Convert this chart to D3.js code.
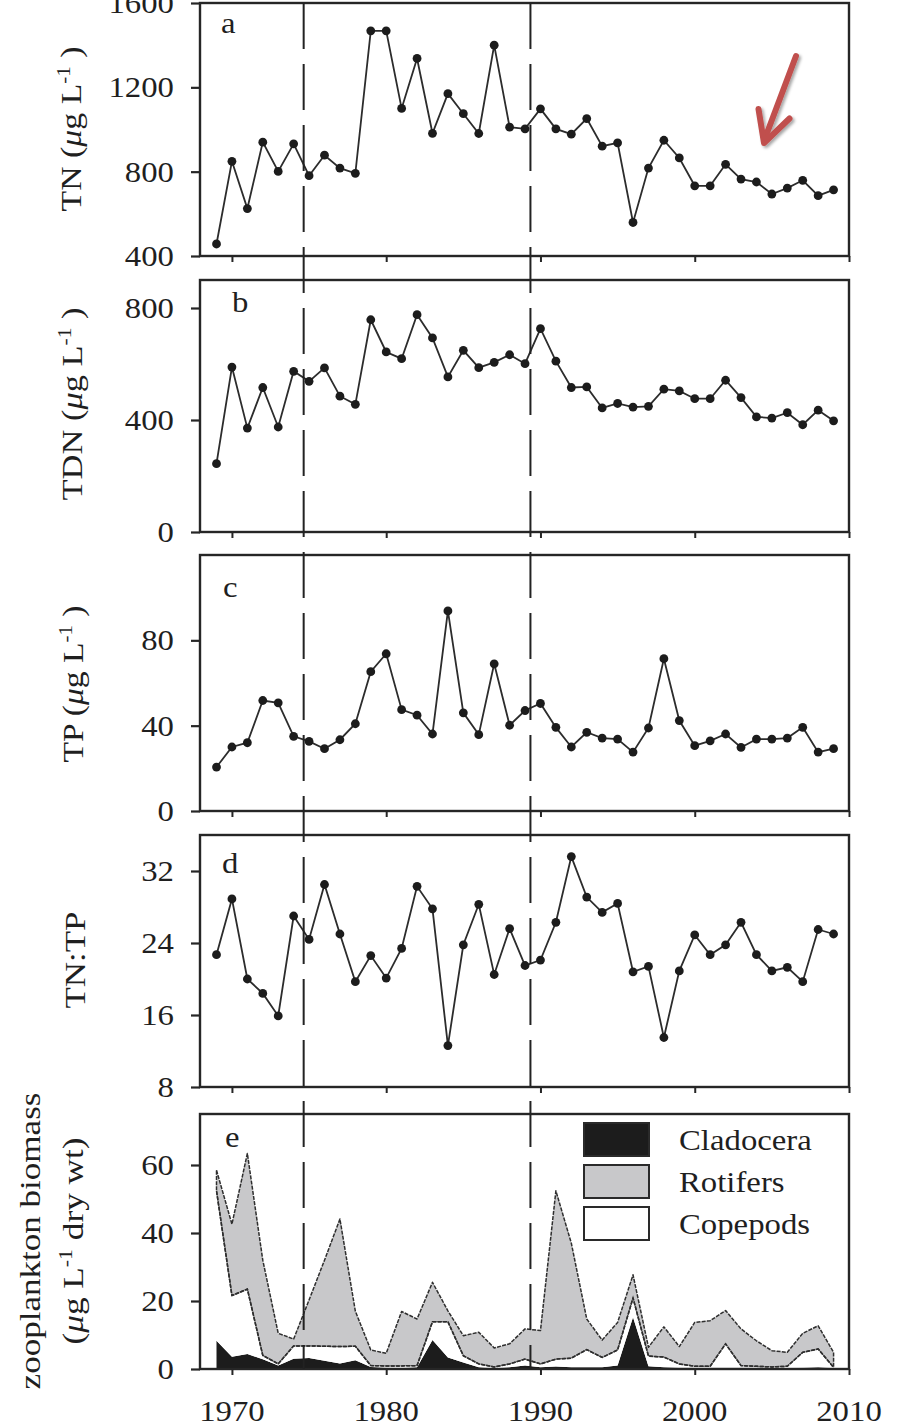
<!DOCTYPE html>
<html>
<head>
<meta charset="utf-8">
<script src="https://cdn.jsdelivr.net/npm/d3@7"></script>
<style>
  html, body { margin: 0; padding: 0; background: #fff; }
  svg { display: block; font-family: "Liberation Serif", "Times New Roman", serif; }
</style>
</head>
<body>
<svg id="chart" width="898" height="1427"></svg>
<script>
// ---- data (annual means, 1969-2009) ----
const years = [1969,1970,1971,1972,1973,1974,1975,1976,1977,1978,
               1979,1980,1981,1982,1983,1984,1985,1986,1987,1988,
               1989,1990,1991,1992,1993,1994,1995,1996,1997,1998,
               1999,2000,2001,2002,2003,2004,2005,2006,2007,2008,2009];

const tn = [457,849,625,940,801,932,781,878,817,792,
            1468,1468,1100,1337,982,1170,1075,981,1400,1011,
            1003,1098,1003,978,1052,921,937,559,817,949,
            865,733,733,835,765,751,694,722,759,686,714];

const tdn = [244,589,371,516,375,574,538,586,485,456,
             758,643,619,776,693,554,649,587,606,633,
             601,726,610,516,518,443,459,446,449,510,
             504,476,476,542,480,411,407,426,383,435,397];

const tp = [20.6,30.0,32.0,51.8,50.7,35.0,32.6,29.2,33.4,40.9,
            65.3,73.7,47.5,44.9,36.1,93.8,46.0,35.8,69.0,40.2,
            47.1,50.4,39.2,30.0,36.9,34.2,33.7,27.6,38.9,71.4,
            42.4,30.6,32.9,36.1,29.8,33.7,33.7,34.2,39.2,27.6,29.2];

const tnTp = [22.7,28.9,20.0,18.4,15.9,27.0,24.4,30.5,25.0,19.7,
              22.6,20.1,23.4,30.3,27.8,12.6,23.8,28.3,20.5,25.6,
              21.5,22.1,26.3,33.6,29.1,27.4,28.4,20.8,21.4,13.5,
              20.9,24.9,22.7,23.8,26.3,22.7,20.9,21.3,19.7,25.5,25.0];

// zooplankton biomass by group (µg/L dry wt)
const cladocera = [8.3,3.6,4.4,2.9,1.0,3.0,3.2,2.4,1.6,2.6,
                   0.6,0.4,0.3,0.5,8.5,3.4,1.9,0.5,0.2,0.5,
                   1.0,0.5,0.7,0.5,0.5,0.5,1.0,15.2,0.8,0.5,
                   0.4,0.4,0.4,0.4,0.4,0.4,0.3,0.3,0.4,0.5,0.3];
const copepods = [44.1,18.0,19.1,1.1,0.5,3.8,3.6,4.3,5.0,4.1,
                  0.4,0.5,0.6,0.5,5.4,10.5,2.0,1.0,0.4,1.0,
                  1.9,1.0,2.2,2.7,5.2,2.9,4.6,5.7,3.0,3.0,
                  1.1,0.4,0.4,7.0,0.6,0.4,0.3,0.5,4.5,5.4,0.2];
const rotifers = [6.1,21.0,39.9,28.0,9.0,2.0,13.5,25.3,37.5,10.3,
                  4.6,3.7,16.0,13.7,11.6,3.2,5.9,9.3,5.6,5.9,
                  8.9,9.8,49.5,33.8,9.0,5.1,8.1,6.8,2.6,8.9,
                  5.1,12.9,13.4,9.8,10.8,7.5,4.8,4.1,5.6,6.8,4.4];

const legendGroups = ["Cladocera", "Rotifers", "Copepods"];
const stackOrder = ["Cladocera", "Copepods", "Rotifers"];   // bottom to top
const regimeBreaks = [1974.65, 1989.35];
const xTickYears = [1970, 1980, 1990, 2000, 2010];
const tnTicks = [400, 800, 1200, 1600];
const tdnTicks = [0, 400, 800];
const tpTicks = [0, 40, 80];
const ratioTicks = [8, 16, 24, 32];
const zooTicks = [0, 20, 40, 60];

// ---- layout ----
const LEFT = 200, RIGHT = 849;
const TEXT_K = 1.13;          // horizontal stretch of the serif face
const INK = "#1f1f1f";
const FONT = 29;
const groupFill = { Cladocera: "#1c1c1c", Rotifers: "#c8c8ca", Copepods: "#ffffff" };

const svg = d3.select("#chart");
const x = d3.scaleLinear().domain([1967.93, 2010]).range([LEFT, RIGHT]);

const mu = "\u03bc";
const panels = [
  { letter: "a", values: tn, top: 3, bottom: 256, domain: [400, 1600], ticks: tnTicks,
    lx: 221, ly: 33,
    label: [["TN (", ""], [mu, "it"], ["g L", ""], ["-1", "sup"], [" )", ""]], labX: 81, labY: 129, labLen: 165 },
  { letter: "b", values: tdn, top: 280, bottom: 532, domain: [0, 900], ticks: tdnTicks,
    lx: 232, ly: 312,
    label: [["TDN (", ""], [mu, "it"], ["g L", ""], ["-1", "sup"], [" )", ""]], labX: 82, labY: 404, labLen: 193 },
  { letter: "c", values: tp, top: 555, bottom: 811, domain: [0, 120], ticks: tpTicks,
    lx: 223, ly: 597,
    label: [["TP (", ""], [mu, "it"], ["g L", ""], ["-1", "sup"], [" )", ""]], labX: 83, labY: 684, labLen: 157 },
  { letter: "d", values: tnTp, top: 835, bottom: 1087, domain: [8, 36], ticks: ratioTicks,
    lx: 222, ly: 873,
    label: [["TN:TP", ""]], labX: 85, labY: 960, labLen: 97 },
  { letter: "e", values: null, top: 1114, bottom: 1369, domain: [0, 75], ticks: zooTicks,
    lx: 225, ly: 1147 }
];

function stretched(g, txt, px, py, anchor, size) {
  return g.append("text")
    .attr("transform", `translate(${px},${py}) scale(${TEXT_K},1)`)
    .attr("text-anchor", anchor)
    .attr("font-size", size)
    .attr("fill", INK)
    .text(txt);
}

function rotatedLabel(parts, cx, cy, targetLen) {
  const t = svg.append("text")
    .attr("text-anchor", "middle")
    .attr("font-size", FONT)
    .attr("fill", INK);
  let raised = false;
  parts.forEach(([s, kind]) => {
    const sp = t.append("tspan").text(s);
    if (kind === "it") sp.attr("font-style", "italic");
    if (kind === "sup") {
      sp.attr("font-size", 18).attr("dy", -11);
      raised = true;
    } else if (raised) {
      sp.attr("dy", 11);
      raised = false;
    }
  });
  const w = t.node().getBBox().width;
  t.attr("transform", `translate(${cx},${cy}) rotate(-90) scale(${targetLen / w},1)`);
}

// ---- panels ----
panels.forEach(p => {
  const g = svg.append("g");
  const y = d3.scaleLinear().domain(p.domain).range([p.bottom, p.top]);

  if (p.values === null) {
    // stacked zooplankton biomass
    const table = years.map((yr, i) => ({
      year: yr, Cladocera: cladocera[i], Copepods: copepods[i], Rotifers: rotifers[i]
    }));
    const series = d3.stack().keys(stackOrder)(table);
    const area = d3.area()
      .x(d => x(d.data.year))
      .y0(d => y(d[0]))
      .y1(d => y(d[1]));
    g.selectAll("path.layer")
      .data(series)
      .join("path")
      .attr("class", "layer")
      .attr("d", area)
      .attr("fill", s => groupFill[s.key])
      .attr("stroke", s => s.key === "Rotifers" ? "#2e2e2e" : "none")
      .attr("stroke-width", 1.5)
      .attr("stroke-dasharray", "4,1.2")
      .attr("stroke-linejoin", "round");
    // boundary between copepods and rotifers
    const mid = series.find(s => s.key === "Copepods");
    g.append("path")
      .datum(mid)
      .attr("d", d3.line().x(d => x(d.data.year)).y(d => y(d[1])))
      .attr("fill", "none")
      .attr("stroke", "#2e2e2e")
      .attr("stroke-width", 1.5)
      .attr("stroke-dasharray", "4,1.2");
  }

  // frame
  g.append("rect")
    .attr("x", LEFT).attr("y", p.top)
    .attr("width", RIGHT - LEFT).attr("height", p.bottom - p.top)
    .attr("fill", "none").attr("stroke", "#262626").attr("stroke-width", 2.4);

  // y axis
  const yAxis = d3.axisLeft(y).tickValues(p.ticks).tickSize(9).tickFormat("");
  const ya = g.append("g").attr("transform", `translate(${LEFT},0)`).call(yAxis);
  ya.select(".domain").remove();
  ya.selectAll(".tick line").attr("stroke", "#262626").attr("stroke-width", 2.2);
  p.ticks.forEach(v => {
    stretched(g, d3.format("d")(v), 174, y(v), "end", FONT).attr("dy", "0.35em");
  });

  // x axis ticks
  const xAxis = d3.axisBottom(x).tickValues(xTickYears).tickSize(6).tickFormat("");
  const xa = g.append("g").attr("transform", `translate(0,${p.bottom})`).call(xAxis);
  xa.select(".domain").remove();
  xa.selectAll(".tick line").attr("stroke", "#262626").attr("stroke-width", 2);

  // panel letter
  stretched(g, p.letter, p.lx, p.ly, "start", FONT);

  if (p.values !== null) {
    const pts = years.map((yr, i) => [yr, p.values[i]]);
    g.append("path")
      .datum(pts)
      .attr("d", d3.line().x(d => x(d[0])).y(d => y(d[1])))
      .attr("fill", "none")
      .attr("stroke", "#2c2c2c")
      .attr("stroke-width", 1.8);
    g.selectAll("circle")
      .data(pts)
      .join("circle")
      .attr("cx", d => x(d[0]))
      .attr("cy", d => y(d[1]))
      .attr("r", 4.4)
      .attr("fill", "#1c1c1c");
    rotatedLabel(p.label, p.labX, p.labY, p.labLen);
  }
});

// regime-shift markers spanning all panels
svg.selectAll("line.break")
  .data(regimeBreaks)
  .join("line")
  .attr("class", "break")
  .attr("x1", d => x(d)).attr("x2", d => x(d))
  .attr("y1", panels[0].top).attr("y2", panels[4].bottom)
  .attr("stroke", "#222")
  .attr("stroke-width", 2)
  .attr("stroke-dasharray", "46,15");

// x tick labels under the last panel
xTickYears.forEach(yr => {
  stretched(svg, String(yr), x(yr), 1421, "middle", FONT);
});

// zooplankton axis title (two lines)
rotatedLabel([["zooplankton biomass", ""]], 40, 1241, 297);
rotatedLabel([["(", ""], [mu, "it"], ["g L", ""], ["-1", "sup"], [" dry wt)", ""]], 83, 1241, 207);

// legend
const legend = svg.append("g");
legendGroups.forEach((name, i) => {
  const ry = 1123 + i * 42;
  legend.append("rect")
    .attr("x", 584).attr("y", ry).attr("width", 65).attr("height", 33)
    .attr("fill", groupFill[name]).attr("stroke", "#2a2a2a").attr("stroke-width", 2);
  stretched(legend, name, 679, ry + 27, "start", FONT);
});

// trend arrow annotation
const defs = svg.append("defs");
const f = defs.append("filter").attr("id", "arrowShadow")
  .attr("x", "-50%").attr("y", "-50%").attr("width", "200%").attr("height", "200%");
f.append("feDropShadow").attr("dx", 2).attr("dy", 2).attr("stdDeviation", 1.8)
  .attr("flood-color", "#000").attr("flood-opacity", 0.35);
const arrow = svg.append("g").attr("filter", "url(#arrowShadow)")
  .attr("fill", "none").attr("stroke", "#c0504d").attr("stroke-width", 6)
  .attr("stroke-linecap", "round").attr("stroke-linejoin", "round");
arrow.append("path").attr("d", "M796,56 L764,141");
arrow.append("path").attr("d", "M758.5,109 L764,143 L789.5,118.5");
</script>
</body>
</html>
